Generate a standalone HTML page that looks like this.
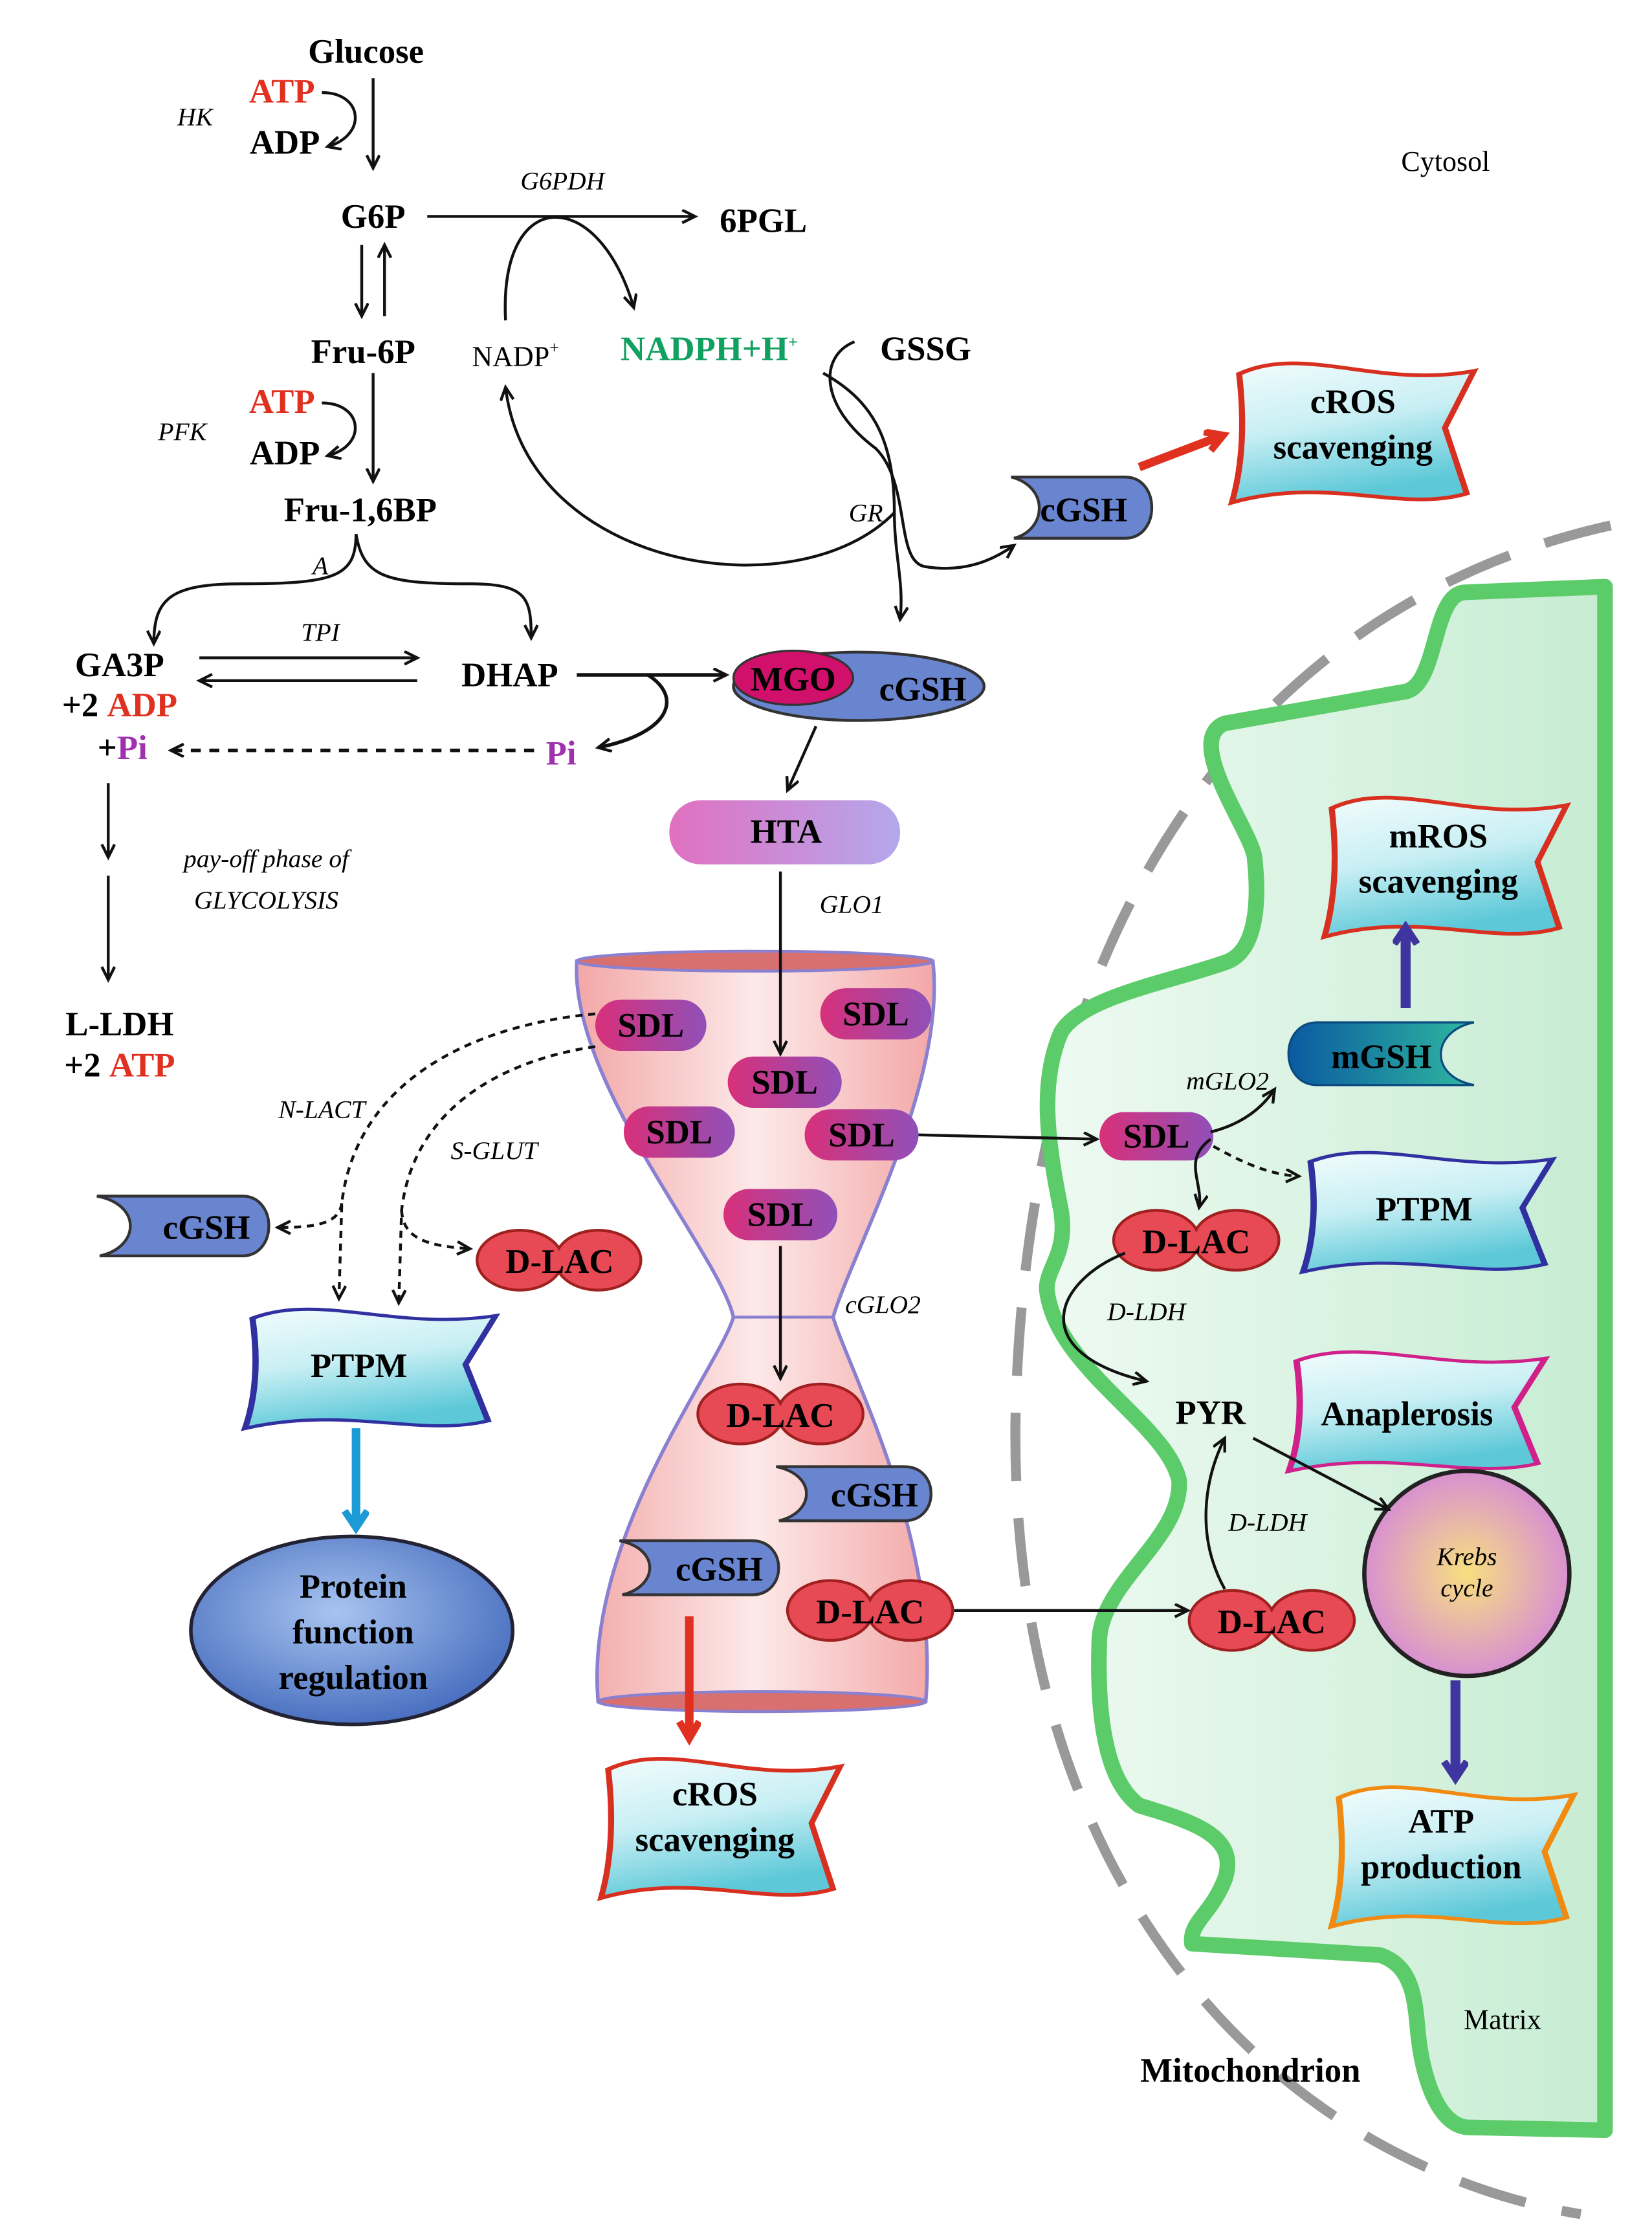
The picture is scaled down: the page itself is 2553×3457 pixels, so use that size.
<!DOCTYPE html>
<html><head><meta charset="utf-8"><style>
html,body{margin:0;padding:0;background:#fff}
svg{display:block;font-family:"Liberation Serif","DejaVu Serif",serif}
svg text{font-family:"Liberation Serif","DejaVu Serif",serif}
.b{font-weight:bold;font-size:24px;text-anchor:middle;font-family:"Liberation Serif",serif}
.i{font-style:italic;font-size:18px;text-anchor:middle;font-family:"Liberation Serif",serif}
.n{font-size:20px;text-anchor:middle;font-family:"Liberation Serif",serif}
</style></head><body>
<svg width="2553" height="3457" viewBox="0 0 1160 1571" preserveAspectRatio="none" xmlns="http://www.w3.org/2000/svg" font-family="Liberation Serif, serif">
<defs>
<marker id="a" markerWidth="14" markerHeight="14" refX="10" refY="5" orient="auto" markerUnits="userSpaceOnUse"><path d="M1,0.5 L10,5 L1,9.5" fill="none" stroke="#111" stroke-width="2"/></marker>
<marker id="ar" markerWidth="30" markerHeight="30" refX="12" refY="8" orient="auto" markerUnits="userSpaceOnUse"><path d="M1,1 L13,8 L1,15" fill="none" stroke="#e03020" stroke-width="5"/></marker>
<marker id="ap" markerWidth="30" markerHeight="30" refX="12" refY="9" orient="auto" markerUnits="userSpaceOnUse"><path d="M1,1 L13,9 L1,17" fill="none" stroke="#3f35a0" stroke-width="5"/></marker>
<marker id="ac" markerWidth="30" markerHeight="30" refX="12" refY="9" orient="auto" markerUnits="userSpaceOnUse"><path d="M1,1 L13,9 L1,17" fill="none" stroke="#1c9ad6" stroke-width="5"/></marker>
<linearGradient id="flag" x1="0" y1="0" x2="0.3" y2="1"><stop offset="0" stop-color="#f2fcfd"/><stop offset="0.5" stop-color="#c8eff4"/><stop offset="1" stop-color="#5cc8d8"/></linearGradient>
<linearGradient id="mito" x1="0" y1="0" x2="1" y2="0"><stop offset="0" stop-color="#eefaf2"/><stop offset="1" stop-color="#c6ecd2"/></linearGradient>
<linearGradient id="hg" x1="0" y1="0" x2="1" y2="0"><stop offset="0" stop-color="#f3a7a7"/><stop offset="0.5" stop-color="#fde9e9"/><stop offset="1" stop-color="#f3a7a7"/></linearGradient>
<linearGradient id="sdl" x1="0" y1="0" x2="1" y2="0"><stop offset="0" stop-color="#d8307a"/><stop offset="1" stop-color="#9050b8"/></linearGradient>
<linearGradient id="hta" x1="0" y1="0" x2="1" y2="0"><stop offset="0" stop-color="#e070c0"/><stop offset="1" stop-color="#b4a8ec"/></linearGradient>
<linearGradient id="mg" x1="0" y1="0" x2="1" y2="0"><stop offset="0" stop-color="#0a5aa0"/><stop offset="1" stop-color="#30b8a0"/></linearGradient>
<radialGradient id="pr" cx="0.45" cy="0.4" r="0.6"><stop offset="0" stop-color="#a8c4f0"/><stop offset="1" stop-color="#4a70c0"/></radialGradient>
<radialGradient id="kr" cx="0.5" cy="0.5" r="0.5"><stop offset="0" stop-color="#f8e080"/><stop offset="1" stop-color="#d890d0"/></radialGradient>
<g id="fl"><path d="M3,12 C30,-8 60,22 100,10 L88,48 L97,92 C70,105 40,80 0,98 C5,70 5,40 3,12 Z"/></g>
</defs>

<path d="M1131,369 C900,420 720,620 713,1000 C710,1330 900,1520 1110,1555" fill="none" stroke="#999" stroke-width="7" stroke-dasharray="48 26"/>
<path d="M1127,412 L1028,416 C1005,418 1010,484 985,486 L860,508 C830,520 880,585 881,603 C885,640 880,670 860,676 C820,690 760,700 745,725 C730,760 735,800 745,850 C750,880 735,890 735,905 C740,960 820,1000 828,1040 C830,1080 775,1110 772,1150 C770,1200 775,1250 800,1268 C840,1280 870,1290 860,1320 C850,1345 835,1350 837,1365 L969,1373 C990,1380 993,1400 995,1420 C998,1460 1010,1492 1030,1494 L1127,1496 Z" fill="url(#mito)" stroke="#5ccc6a" stroke-width="11" stroke-linejoin="round"/>

<path d="M405,675 C400,760 505,880 515,925 C505,960 410,1080 420,1195 L650,1195 C660,1080 595,960 585,925 C598,880 665,760 655,675 Z" fill="url(#hg)" stroke="#8a80d0" stroke-width="2.5"/>
<ellipse cx="530" cy="675" rx="125" ry="7" fill="#d87070" stroke="#8a80d0" stroke-width="2"/>
<ellipse cx="535" cy="1195" rx="115" ry="7" fill="#d87070" stroke="#8a80d0" stroke-width="2"/>
<line x1="515" y1="925" x2="585" y2="925" stroke="#8a80d0" stroke-width="2"/>

<g fill="url(#flag)" stroke-width="2.5">
<use href="#fl" transform="translate(865,250) scale(1.7,1.05)" stroke="#d83020"/>
<use href="#fl" transform="translate(930,555) scale(1.7,1.05)" stroke="#d83020"/>
<use href="#fl" transform="translate(915,805) scale(1.75,0.9)" stroke="#3030a0"/>
<use href="#fl" transform="translate(905,945) scale(1.8,0.9)" stroke="#d0208a"/>
<use href="#fl" transform="translate(935,1250) scale(1.7,1.05)" stroke="#f08a10"/>
<use href="#fl" transform="translate(172,915) scale(1.76,0.9)" stroke="#3030a0"/>
<use href="#fl" transform="translate(422,1230) scale(1.68,1.05)" stroke="#d83020"/>
</g>

<ellipse cx="247" cy="1145" rx="113" ry="66" fill="url(#pr)" stroke="#223" stroke-width="2.5"/>
<circle cx="1030" cy="1105" r="72" fill="url(#kr)" stroke="#222" stroke-width="3"/>

<ellipse cx="603" cy="482" rx="88" ry="24" fill="#6a85d0" stroke="#333" stroke-width="2"/>
<ellipse cx="557" cy="476" rx="42" ry="19" fill="#d0106a" stroke="#333" stroke-width="1.5"/>
<rect x="470" y="562" width="162" height="45" rx="22" fill="url(#hta)"/>

<g fill="#6a85d0" stroke="#333" stroke-width="2">
<path d="M710,335 L790,335 C815,335 815,378 790,378 L712,378 C735,372 737,342 710,335 Z"/>
<path d="M68,840 L170,840 C195,840 195,882 170,882 L70,882 C98,876 100,846 68,840 Z"/>
<path d="M545,1030 L635,1030 C660,1030 660,1068 635,1068 L547,1068 C572,1062 574,1036 545,1030 Z"/>
<path d="M435,1082 L528,1082 C553,1082 553,1120 528,1120 L437,1120 C462,1114 464,1088 435,1082 Z"/>
</g>
<path d="M925,718 L1035,718 C1005,724 1003,756 1035,762 L925,762 C898,762 898,718 925,718 Z" fill="url(#mg)" stroke="#0a4a80" stroke-width="1.5"/>

<g fill="url(#sdl)">
<rect x="418" y="702" width="78" height="36" rx="18"/>
<rect x="576" y="694" width="78" height="36" rx="18"/>
<rect x="511" y="742" width="80" height="36" rx="18"/>
<rect x="438" y="777" width="78" height="36" rx="18"/>
<rect x="565" y="779" width="80" height="36" rx="18"/>
<rect x="508" y="835" width="80" height="36" rx="18"/>
<rect x="772" y="781" width="80" height="34" rx="17"/>
</g>

<g stroke="#a02020" stroke-width="2" fill="#e84a55">
<ellipse cx="365" cy="885" rx="30" ry="21"/><ellipse cx="420" cy="885" rx="30" ry="21"/>
<ellipse cx="520" cy="993" rx="30" ry="21"/><ellipse cx="576" cy="993" rx="30" ry="21"/>
<ellipse cx="583" cy="1131" rx="30" ry="21"/><ellipse cx="639" cy="1131" rx="30" ry="21"/>
<ellipse cx="812" cy="871" rx="30" ry="21"/><ellipse cx="868" cy="871" rx="30" ry="21"/>
<ellipse cx="865" cy="1138" rx="30" ry="21"/><ellipse cx="921" cy="1138" rx="30" ry="21"/>
</g>
<g fill="#e84a55">
<ellipse cx="365" cy="885" rx="29" ry="20"/><ellipse cx="420" cy="885" rx="29" ry="20"/>
<ellipse cx="520" cy="993" rx="29" ry="20"/><ellipse cx="576" cy="993" rx="29" ry="20"/>
<ellipse cx="583" cy="1131" rx="29" ry="20"/><ellipse cx="639" cy="1131" rx="29" ry="20"/>
<ellipse cx="812" cy="871" rx="29" ry="20"/><ellipse cx="868" cy="871" rx="29" ry="20"/>
<ellipse cx="865" cy="1138" rx="29" ry="20"/><ellipse cx="921" cy="1138" rx="29" ry="20"/>
</g>

<g fill="none" stroke="#111" stroke-width="2" marker-end="url(#a)">
<line x1="262" y1="55" x2="262" y2="118"/>
<path d="M226,65 C255,65 258,95 230,103"/>
<line x1="300" y1="152" x2="488" y2="152"/>
<path d="M355,225 C350,130 420,130 445,216"/>
<line x1="254" y1="172" x2="254" y2="222"/>
<line x1="270" y1="222" x2="270" y2="172"/>
<line x1="262" y1="262" x2="262" y2="338"/>
<path d="M226,283 C255,283 258,313 230,320"/>
<path d="M250,375 C250,405 235,410 170,410 C120,410 108,420 108,452"/>
<path d="M250,375 C255,405 270,410 330,410 C370,410 373,420 373,448"/>
<line x1="140" y1="462" x2="293" y2="462"/>
<line x1="293" y1="478" x2="140" y2="478"/>
<line x1="405" y1="474" x2="510" y2="474" stroke-width="2.5"/>
<path d="M455,474 C480,490 470,515 420,525" stroke-width="2.5"/>
<line x1="375" y1="527" x2="120" y2="527" stroke-dasharray="7 6" stroke-width="2.5"/>
<line x1="76" y1="550" x2="76" y2="602"/>
<line x1="76" y1="615" x2="76" y2="688"/>
<path d="M578,262 C610,280 628,305 628,360 C628,390 635,410 632,435"/>
<path d="M600,240 C575,250 575,285 615,315 C640,340 628,395 650,398 C675,402 695,395 712,383"/>
<path d="M628,360 C560,430 370,400 355,272"/>
<line x1="573" y1="510" x2="553" y2="555"/>
<line x1="548" y1="612" x2="548" y2="740"/>
<line x1="548" y1="875" x2="548" y2="968"/>
<line x1="645" y1="797" x2="770" y2="800"/>
<line x1="670" y1="1131" x2="834" y2="1131"/>
<path d="M418,712 C330,720 250,760 240,845 L238,912" stroke-dasharray="5 4"/>
<path d="M240,845 C238,860 220,862 195,862" stroke-dasharray="5 4"/>
<path d="M418,735 C350,745 290,780 282,850 L280,915" stroke-dasharray="5 4"/>
<path d="M282,850 C283,870 300,875 330,877" stroke-dasharray="5 4"/>
<path d="M850,795 C870,790 885,780 895,765"/>
<path d="M850,800 C830,815 845,830 842,848"/>
<path d="M852,805 C870,815 890,825 912,826" stroke-dasharray="5 4"/>
<path d="M790,880 C740,900 720,950 805,970"/>
<path d="M860,1116 C840,1080 845,1040 860,1010"/>
<line x1="880" y1="1010" x2="975" y2="1060"/>
</g>
<line x1="800" y1="328" x2="858" y2="306" stroke="#e03020" stroke-width="6" marker-end="url(#ar)"/>
<line x1="987" y1="708" x2="987" y2="652" stroke="#3f35a0" stroke-width="7" marker-end="url(#ap)"/>
<line x1="1022" y1="1180" x2="1022" y2="1248" stroke="#3f35a0" stroke-width="7" marker-end="url(#ap)"/>
<line x1="250" y1="1003" x2="250" y2="1072" stroke="#1c9ad6" stroke-width="6" marker-end="url(#ac)"/>
<line x1="484" y1="1135" x2="484" y2="1220" stroke="#e03020" stroke-width="6" marker-end="url(#ar)"/>

<text class="b" x="257" y="44">Glucose</text>
<text class="b" x="198" y="72" fill="#e03020" font-size="21">ATP</text>
<text class="b" x="200" y="108" font-size="20">ADP</text>
<text class="i" x="137" y="88" font-size="20">HK</text>
<text class="i" x="395" y="133">G6PDH</text>
<text class="b" x="262" y="160">G6P</text>
<text class="b" x="536" y="163">6PGL</text>
<text class="b" x="255" y="255">Fru-6P</text>
<text class="n" x="362" y="257">NADP<tspan font-size="12" dy="-9">+</tspan></text>
<text class="b" x="498" y="253" fill="#10a060" font-size="21">NADPH+H<tspan font-size="12" dy="-9">+</tspan></text>
<text class="b" x="650" y="253">GSSG</text>
<text class="b" x="198" y="290" fill="#e03020" font-size="21">ATP</text>
<text class="b" x="200" y="326" font-size="20">ADP</text>
<text class="i" x="128" y="309" font-size="20">PFK</text>
<text class="b" x="253" y="366">Fru-1,6BP</text>
<text class="i" x="225" y="403">A</text>
<text class="i" x="225" y="450">TPI</text>
<text class="b" x="84" y="475">GA3P</text>
<text class="b" x="84" y="503">+2 <tspan fill="#e03020">ADP</tspan></text>
<text class="b" x="86" y="533">+<tspan fill="#a030b0">Pi</tspan></text>
<text class="b" x="358" y="482">DHAP</text>
<text class="b" x="394" y="537" fill="#a030b0">Pi</text>
<text class="i" x="187" y="609" font-size="21">pay-off phase of</text>
<text class="i" x="187" y="638" font-size="21">GLYCOLYSIS</text>
<text class="b" x="84" y="727">L-LDH</text>
<text class="b" x="84" y="756">+2 <tspan fill="#e03020">ATP</tspan></text>
<text class="n" x="1015" y="120">Cytosol</text>
<text class="i" x="608" y="366">GR</text>
<text class="b" x="648" y="492">cGSH</text>
<text class="b" x="557" y="485" font-size="22">MGO</text>
<text class="b" x="761" y="366">cGSH</text>
<text class="b" x="552" y="592">HTA</text>
<text class="i" x="598" y="641">GLO1</text>
<text class="i" x="226" y="785">N-LACT</text>
<text class="i" x="347" y="814">S-GLUT</text>
<text class="i" x="620" y="922">cGLO2</text>
<text class="i" x="862" y="765">mGLO2</text>
<text class="i" x="805" y="927">D-LDH</text>
<text class="i" x="890" y="1075">D-LDH</text>
<text class="b" x="850" y="1000">PYR</text>
<text class="i" x="1030" y="1099" font-size="16">Krebs</text>
<text class="i" x="1030" y="1121" font-size="16">cycle</text>
<text class="n" x="1055" y="1425">Matrix</text>
<text class="b" x="878" y="1462" font-size="21">Mitochondrion</text>
<text class="b" x="950" y="290">cROS</text>
<text class="b" x="950" y="322">scavenging</text>
<text class="b" x="1010" y="595">mROS</text>
<text class="b" x="1010" y="627">scavenging</text>
<text class="b" x="1000" y="857">PTPM</text>
<text class="b" x="988" y="1001">Anaplerosis</text>
<text class="b" x="1012" y="1287">ATP</text>
<text class="b" x="1012" y="1319">production</text>
<text class="b" x="252" y="967">PTPM</text>
<text class="b" x="502" y="1268">cROS</text>
<text class="b" x="502" y="1300">scavenging</text>
<text class="b" x="248" y="1122">Protein</text>
<text class="b" x="248" y="1154">function</text>
<text class="b" x="248" y="1186">regulation</text>
<text class="b" x="145" y="870">cGSH</text>
<text class="b" x="614" y="1058">cGSH</text>
<text class="b" x="505" y="1110">cGSH</text>
<text class="b" x="970" y="750">mGSH</text>
<text class="b" x="457" y="728" font-size="22">SDL</text>
<text class="b" x="615" y="720" font-size="22">SDL</text>
<text class="b" x="551" y="768" font-size="22">SDL</text>
<text class="b" x="477" y="803" font-size="22">SDL</text>
<text class="b" x="605" y="805" font-size="22">SDL</text>
<text class="b" x="548" y="861" font-size="22">SDL</text>
<text class="b" x="812" y="806" font-size="22">SDL</text>
<text class="b" x="393" y="894" font-size="22">D-LAC</text>
<text class="b" x="548" y="1002" font-size="22">D-LAC</text>
<text class="b" x="611" y="1140" font-size="22">D-LAC</text>
<text class="b" x="840" y="880" font-size="22">D-LAC</text>
<text class="b" x="893" y="1147" font-size="22">D-LAC</text>
</svg>
</body></html>
